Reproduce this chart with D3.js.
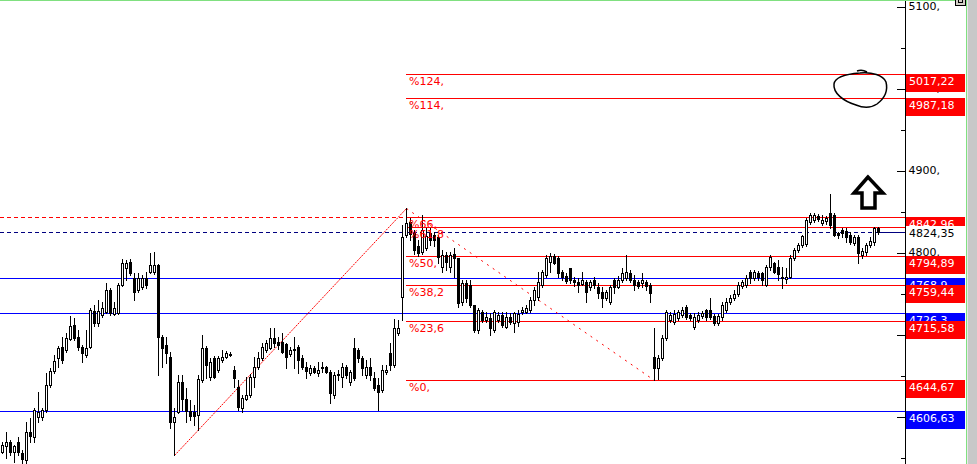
<!DOCTYPE html>
<html>
<head>
<meta charset="utf-8">
<script src="https://cdn.jsdelivr.net/npm/d3@7"></script>
<style>
body { margin: 0; background: #fff; overflow: hidden; }
svg { display: block; font-family: "DejaVu Sans", sans-serif; }
</style>
</head>
<body>
<div id="chart"></div>
<script>
// svg size and the price axis position
var svgWidth = 977, svgHeight = 464;
var axisX = 905;

// candles, one value per bar
var opens = [
  4557,4564,4569,4557,4569,4555,4547,4581,4575,4599,
  4599,4608,4638,4655,4671,4684,4681,4694,4711,4697,
  4684,4675,4684,4728,4714,4723,4727,4754,4725,4726,
  4760,4781,4788,4768,4754,4757,4768,4776,4776,4784,
  4697,4687,4672,4593,4605,4642,4621,4606,4605,4602,
  4644,4683,4648,4671,4656,4669,4672,4676,4656,4636,
  4610,4621,4626,4648,4660,4671,4681,4683,4695,4690,
  4690,4688,4676,4681,4684,4671,4660,4653,4659,4653,
  4660,4660,4654,4626,4650,4648,4660,4642,4683,4681,
  4671,4650,4660,4647,4638,4632,4654,4677,4662,4701,
  4745,4821,4837,4823,4807,4800,4805,4823,4821,4818,
  4782,4796,4782,4798,4793,4739,4762,4760,4736,4705,
  4727,4717,4720,4705,4717,4723,4709,4721,4714,4715,
  4727,4727,4729,4742,4745,4760,4772,4788,4795,4793,
  4776,4771,4781,4766,4764,4761,4764,4757,4766,4757,
  4751,4744,4739,4766,4757,4766,4768,4775,4766,4764,
  4762,4764,4760,4672,4659,4671,4695,4717,4715,4720,
  4723,4733,4723,4709,4717,4722,4729,4729,4722,4714,
  4721,4729,4739,4744,4749,4759,4760,4776,4768,4775,
  4775,4760,4782,4787,4782,4768,4767,4770,4793,4803,
  4809,4810,4837,4839,4844,4835,4838,4848,4845,4823,
  4827,4826,4821,4811,4818,4796,4800,4809,4812,4829
];
var highs = [
  4569,4581,4571,4565,4575,4559,4593,4598,4610,4630,
  4610,4653,4659,4675,4686,4697,4701,4722,4720,4705,
  4687,4705,4732,4736,4742,4739,4762,4756,4739,4762,
  4792,4790,4792,4775,4775,4772,4776,4799,4800,4785,
  4699,4697,4678,4610,4650,4650,4634,4620,4614,4650,
  4699,4686,4671,4673,4673,4681,4680,4678,4661,4644,
  4626,4648,4651,4672,4678,4689,4693,4707,4707,4697,
  4701,4689,4684,4697,4687,4675,4666,4662,4661,4666,
  4666,4661,4656,4654,4656,4665,4662,4656,4695,4683,
  4673,4669,4671,4654,4647,4662,4662,4689,4718,4717,
  4833,4854,4842,4827,4815,4845,4829,4829,4824,4821,
  4803,4800,4800,4805,4793,4766,4766,4766,4736,4732,
  4729,4727,4726,4729,4727,4727,4727,4726,4727,4729,
  4733,4736,4745,4757,4776,4778,4796,4799,4798,4795,
  4778,4775,4781,4770,4768,4776,4766,4766,4770,4762,
  4757,4754,4760,4768,4771,4781,4796,4778,4772,4766,
  4775,4766,4762,4707,4675,4699,4729,4727,4729,4729,
  4733,4736,4726,4726,4727,4728,4731,4744,4725,4725,
  4739,4744,4748,4754,4764,4766,4772,4778,4778,4777,
  4776,4784,4796,4788,4790,4782,4781,4796,4805,4811,
  4821,4842,4848,4848,4846,4845,4844,4871,4848,4824,
  4829,4829,4824,4821,4821,4805,4811,4818,4831,4831
];
var lows = [
  4555,4549,4553,4544,4553,4543,4543,4569,4569,4593,
  4595,4605,4636,4653,4660,4665,4678,4693,4693,4681,
  4666,4672,4683,4710,4710,4721,4726,4723,4723,4725,
  4759,4766,4772,4742,4751,4755,4756,4775,4773,4650,
  4660,4665,4586,4553,4604,4608,4593,4595,4589,4583,
  4642,4647,4644,4647,4654,4666,4671,4673,4636,4608,
  4605,4620,4623,4636,4658,4668,4678,4682,4684,4682,
  4677,4659,4673,4659,4653,4658,4647,4650,4653,4649,
  4654,4653,4616,4622,4644,4636,4647,4638,4644,4666,
  4650,4647,4644,4632,4608,4630,4652,4656,4660,4699,
  4717,4818,4815,4798,4795,4798,4803,4809,4807,4787,
  4776,4778,4776,4770,4733,4736,4739,4733,4703,4701,
  4715,4715,4699,4703,4715,4709,4707,4712,4703,4710,
  4725,4726,4727,4736,4742,4757,4770,4776,4785,4770,
  4766,4762,4762,4759,4751,4760,4739,4754,4756,4744,
  4733,4742,4737,4750,4756,4764,4766,4764,4754,4756,
  4757,4754,4739,4644.67,4645,4668,4693,4715,4712,4717,
  4721,4718,4717,4706,4715,4720,4717,4718,4711,4711,
  4717,4727,4737,4742,4747,4756,4757,4762,4766,4766,
  4760,4759,4778,4775,4766,4756,4762,4768,4790,4800,
  4806,4807,4834,4837,4838,4833,4834,4829,4820,4817,
  4818,4812,4810,4809,4787,4793,4796,4806,4809,4822
];
var closes = [
  4565,4569,4557,4564,4557,4548,4581,4576,4608,4605,
  4608,4638,4655,4667,4683,4669,4695,4710,4695,4684,
  4677,4683,4729,4714,4728,4732,4754,4726,4732,4760,
  4787,4787,4775,4751,4768,4768,4760,4784,4784,4697,
  4683,4677,4593,4599,4642,4621,4606,4600,4600,4645,
  4683,4662,4666,4648,4671,4672,4677,4675,4647,4611,
  4622,4626,4648,4660,4671,4684,4689,4695,4689,4687,
  4678,4672,4681,4682,4669,4660,4655,4659,4654,4656,
  4659,4654,4628,4650,4652,4660,4650,4654,4647,4671,
  4659,4660,4650,4634,4630,4656,4656,4662,4707,4707,
  4818,4835,4822,4803,4799,4827,4820,4815,4815,4794,
  4796,4788,4796,4793,4738,4762,4744,4736,4705,4729,
  4717,4721,4707,4727,4723,4711,4721,4715,4726,4725,
  4729,4732,4742,4754,4764,4776,4793,4795,4787,4775,
  4770,4765,4766,4764,4760,4766,4751,4764,4760,4750,
  4744,4751,4757,4757,4766,4775,4776,4766,4760,4759,
  4766,4759,4750,4659,4671,4695,4727,4723,4725,4727,
  4729,4721,4720,4721,4723,4726,4721,4721,4714,4722,
  4736,4739,4744,4749,4760,4764,4768,4768,4776,4770,
  4766,4782,4794,4776,4773,4770,4770,4793,4803,4809,
  4820,4839,4845,4845,4840,4839,4842,4833,4821,4821,
  4823,4818,4812,4818,4799,4801,4809,4813,4829,4824.35
];

// horizontal levels
var blueLevels = [4768.9, 4726.3, 4606.63];
var redDashLevel = 4842.96;
var bidLevel = 4824.35;

// fibonacci levels drawn from the swing high bar
var fibNames = ["%124,", "%114,", "%66,", "%61,8", "%50,", "%38,2", "%23,6", "%0,"];
var fibValues = [5017.22, 4987.18, 4842.96, 4830.34, 4794.89, 4759.44, 4715.58, 4644.67];
var fibStartBar = 101;

// price labels on the right
var boxValues = [5017.22, 4987.18, 4842.96, 4824.35, 4794.89, 4768.9, 4759.44, 4726.3, 4715.58, 4644.67, 4606.63];
var boxTexts = ["5017,22", "4987,18", "4842,96", "4824,35", "4794,89", "4768,9", "4759,44", "4726,3", "4715,58", "4644,67", "4606,63"];
var boxKinds = ["red", "red", "red", "bid", "red", "blue", "red", "blue", "red", "red", "blue"];

// axis ticks
var majorTicks = [4600, 4700, 4800, 4900, 5000, 5100];
var minorTicks = [4550, 4650, 4750, 4850, 4950, 5050];

// trend lines as [bar, price]
var upLine = [[43, 4553], [101, 4854]];
var downLine = [[101, 4854], [163, 4644.67]];

var svg = d3.select("#chart")
  .append("svg")
  .attr("width", svgWidth)
  .attr("height", svgHeight)
  .attr("shape-rendering", "crispEdges");

svg.append("rect").attr("width", svgWidth).attr("height", svgHeight).attr("fill", "#fff");

// scales
var xScale = d3.scaleBand().domain(d3.range(opens.length)).range([0, opens.length * 4]);
var yScale = d3.scaleLinear().domain([4600, 5100]).range([416.3, 5.7]);
var X = i => xScale(i) + 2;
var Y = v => Math.round(yScale(v));

var lines = svg.append("g");

function hline(v, x1, color, dash) {
  lines.append("line")
    .attr("x1", x1).attr("x2", axisX)
    .attr("y1", Y(v) + 0.5).attr("y2", Y(v) + 0.5)
    .attr("stroke", color)
    .attr("stroke-dasharray", dash || null);
}

blueLevels.forEach(v => hline(v, 0, "#0000ff"));
hline(redDashLevel, 0, "#ff0000", "4,3");
// bid line: dashed over the bars, solid after the last one
lines.append("line")
  .attr("x1", 0).attr("x2", X(opens.length - 1))
  .attr("y1", Y(bidLevel) + 0.5).attr("y2", Y(bidLevel) + 0.5)
  .attr("stroke", "#000080").attr("stroke-dasharray", "4,3");
lines.append("line")
  .attr("x1", X(opens.length - 1)).attr("x2", axisX)
  .attr("y1", Y(bidLevel) + 0.5).attr("y2", Y(bidLevel) + 0.5)
  .attr("stroke", "#000080");

fibValues.forEach(v => hline(v, X(fibStartBar), "#ff0000"));

// trend lines
var lineGen = d3.line().x(d => X(d[0]) + 0.5).y(d => Y(d[1]) + 0.5);
lines.append("path").datum(upLine)
  .attr("d", lineGen).attr("fill", "none")
  .attr("stroke", "#ff0000").attr("stroke-dasharray", "2,1")
  .attr("shape-rendering", "auto");
lines.append("path").datum(downLine)
  .attr("d", lineGen).attr("fill", "none")
  .attr("stroke", "#ff0000").attr("stroke-dasharray", "2,5")
  .attr("shape-rendering", "auto");

// candles
var bars = svg.append("g").selectAll("g")
  .data(d3.range(opens.length))
  .enter()
  .append("g");

bars.append("rect")
  .attr("x", i => X(i))
  .attr("y", i => Y(highs[i]))
  .attr("width", 1)
  .attr("height", i => Y(lows[i]) - Y(highs[i]) + 1)
  .attr("fill", "#000");

bars.each(function(i) {
  var g = d3.select(this);
  var top = Y(Math.max(opens[i], closes[i]));
  var bot = Y(Math.min(opens[i], closes[i]));
  var cx = X(i);
  if (bot - top < 1) {
    g.append("rect").attr("x", cx - 1).attr("y", top).attr("width", 3).attr("height", 1).attr("fill", "#000");
  } else if (closes[i] >= opens[i]) {
    g.append("rect")
      .attr("x", cx - 0.5).attr("y", top + 0.5)
      .attr("width", 2).attr("height", bot - top)
      .attr("fill", "#fff").attr("stroke", "#000");
  } else {
    g.append("rect")
      .attr("x", cx - 1).attr("y", top)
      .attr("width", 3).attr("height", bot - top + 1)
      .attr("fill", "#000");
  }
});

// fib labels
svg.append("g").selectAll("text")
  .data(fibValues)
  .enter()
  .append("text")
  .attr("x", X(fibStartBar) + 3)
  .attr("y", v => Y(v) + 11)
  .attr("font-size", "11px")
  .attr("fill", "#ff0000")
  .text((v, k) => fibNames[k]);

// price axis
svg.append("rect").attr("x", axisX + 1).attr("y", 0).attr("width", 60).attr("height", svgHeight).attr("fill", "#fff");

var majorAxis = d3.axisRight(yScale).tickValues(majorTicks).tickSize(-9).tickPadding(3).tickFormat(d => d + ",");
var minorAxis = d3.axisRight(yScale).tickValues(minorTicks).tickSize(-5).tickFormat("");

var axG = svg.append("g").attr("transform", `translate(${axisX + 0.5},0)`).call(majorAxis);
svg.append("g").attr("transform", `translate(${axisX + 0.5},0)`).call(minorAxis);
svg.selectAll(".domain").remove();
axG.selectAll("text").attr("font-size", "11px").attr("font-family", "DejaVu Sans").attr("fill", "#000");
svg.selectAll(".tick line").attr("stroke", "#000")
  .attr("transform", d => `translate(0,${Y(d) + 0.5 - yScale(d)})`);

svg.append("line")
  .attr("x1", axisX + 0.5).attr("x2", axisX + 0.5)
  .attr("y1", 0).attr("y2", svgHeight)
  .attr("stroke", "#000");

// price boxes
var boxColor = { red: "#ff0000", blue: "#0000ff", bid: "#ffffff" };
boxValues.forEach(function(v, k) {
  var kind = boxKinds[k];
  var top = kind === "bid" ? Y(v) - 6 : Y(v);
  svg.append("rect")
    .attr("x", axisX + 1).attr("y", top)
    .attr("width", 59).attr("height", 18)
    .attr("fill", boxColor[kind]);
  svg.append("text")
    .attr("x", axisX + 4).attr("y", top + 11)
    .attr("font-size", "11px")
    .attr("fill", kind === "bid" ? "#000" : "#fff")
    .text(boxTexts[k]);
});

// hand drawn marks
svg.append("path")
  .attr("d", "M868,177 L854,193 L862,193 L862,208 L875,208 L875,193 L883,193 Z")
  .attr("fill", "#fff").attr("stroke", "#000").attr("stroke-width", 3.5)
  .attr("stroke-linejoin", "miter").attr("shape-rendering", "auto");
svg.append("path")
  .attr("d", "M860,73 C846,74 835,77 834,84 C833,93 843,101 856,105 C863,108 871,108 877,104 C885,98 888,90 886,82 C883,75 872,72 860,73 M857,71 Q862,69 867,72")
  .attr("fill", "none").attr("stroke", "#000").attr("stroke-width", 1.5)
  .attr("shape-rendering", "auto");

// window frame on the right
svg.append("rect").attr("x", 0).attr("y", 0).attr("width", 967).attr("height", 1).attr("fill", "#80e080");
svg.append("rect").attr("x", 966).attr("y", 0).attr("width", 1).attr("height", svgHeight).attr("fill", "#80e080");
svg.append("rect").attr("x", 967).attr("y", 0).attr("width", 10).attr("height", svgHeight).attr("fill", "#c8c8c8");
svg.append("rect").attr("x", 967).attr("y", 0).attr("width", 1).attr("height", svgHeight).attr("fill", "#e8e8e8");
svg.append("rect").attr("x", 955.5).attr("y", -2.5).attr("width", 10).attr("height", 8).attr("fill", "#d4d0c8").attr("stroke", "#000");
svg.append("rect").attr("x", 958.5).attr("y", -0.5).attr("width", 4).attr("height", 3).attr("fill", "none").attr("stroke", "#000");
</script>
</body>
</html>
